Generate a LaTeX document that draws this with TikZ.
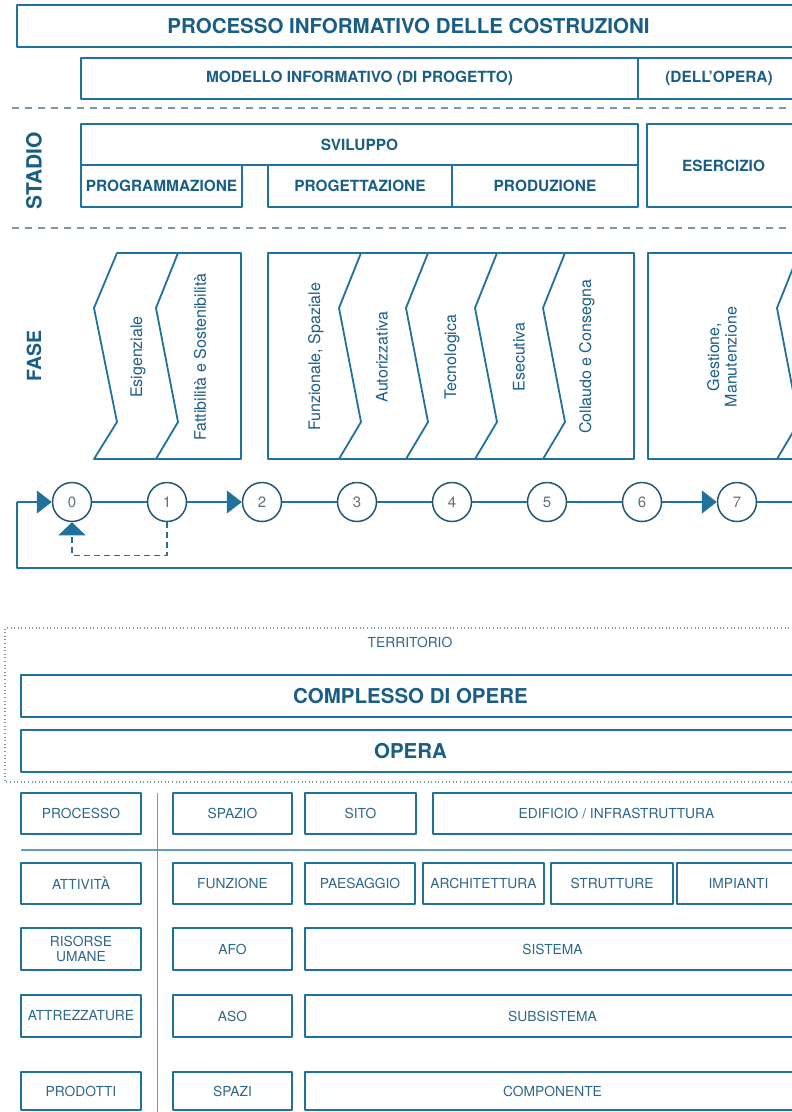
\documentclass[tikz,border=0pt]{standalone}
\usepackage{fontspec}
\setmainfont{TeX Gyre Heros}
\usepackage{tikz}
\usetikzlibrary{arrows.meta,fit}

\definecolor{bimblue}{RGB}{32,114,156}
\definecolor{bimtext}{RGB}{26,94,134}
\definecolor{bimcell}{RGB}{45,102,138}
\definecolor{bimgrey}{RGB}{125,150,168}
\definecolor{bimring}{RGB}{36,88,114}
\definecolor{bimnum}{RGB}{100,112,122}

\tikzset{
  outline/.style={draw=bimblue,line width=1.8pt},
  frame/.style={outline,inner sep=0pt},
  headtxt/.style={text=bimtext,inner sep=0pt,font=\bfseries\fontsize{15.4}{18}\selectfont},
  bigtxt/.style={text=bimtext,inner sep=0pt,font=\bfseries\fontsize{20.5}{24}\selectfont},
  celltxt/.style={text=bimcell,inner sep=0pt,align=center,font=\fontsize{13.8}{15}\selectfont},
  cellbox/.style={frame,line width=1.6pt},
  stage/.style={rotate=90,text=bimtext,font=\bfseries\fontsize{21}{24}\selectfont},
  phase/.style={rotate=90,text=bimtext,align=center,font=\fontsize{16}{17.5}\selectfont},
  tappa/.style={circle,draw=bimring,line width=1.5pt,minimum size=39pt,inner sep=0pt,fill=white,text=bimnum,font=\fontsize{15}{18}\selectfont},
  flow/.style={draw=bimblue,line width=1.4pt},
  tip/.style={-{Triangle[length=15pt,width=23pt]}},
  sepline/.style={draw=bimgrey,line width=1.3pt,dash pattern=on 7pt off 6pt},
}

\begin{document}
\begin{tikzpicture}[x=1pt,y=-1pt,line join=round]
\useasboundingbox (0,0) rectangle (792,1112);
\clip (0,0) rectangle (792,1112);
% processo e modello informativo
\node[frame,fit={(17,5) (800,47)},label={[bigtxt]center:PROCESSO INFORMATIVO DELLE COSTRUZIONI}] (processo) {};
\node[frame,fit={(81,58) (638,99)},label={[headtxt]center:MODELLO INFORMATIVO (DI PROGETTO)}] (progetto) {};
\node[frame,fit={(638,58) (800,99)},label={[headtxt]center:(DELL'OPERA)}] (dellopera) {};
\draw[sepline] (12,108) -- (800,108);
% stadi
\node[stage] (stadio) at (34,171) {STADIO};
\node[frame,fit={(81,124) (638,165)},label={[headtxt]center:SVILUPPO}] (sviluppo) {};
\node[frame,fit={(81,165) (242,207)},label={[headtxt]center:PROGRAMMAZIONE}] (programmazione) {};
\node[frame,fit={(268,165) (452,207)},label={[headtxt]center:PROGETTAZIONE}] (progettazione) {};
\node[frame,fit={(452,165) (638,207)},label={[headtxt]center:PRODUZIONE}] (produzione) {};
\node[frame,fit={(647,124) (800,207)},label={[headtxt]center:ESERCIZIO}] (esercizio) {};
\draw[sepline] (12,228) -- (800,228);
% fasi
\node[stage,font=\bfseries\fontsize{19.5}{24}\selectfont] (fase) at (34,356) {FASE};
\draw[outline] (117,253) -- (241,253) -- (241,459) -- (94,459) -- (117,422) -- (94,308) -- cycle;
\draw[outline] (268,253) rectangle (634,459);
\draw[outline] (800,253) -- (648,253) -- (648,459) -- (800,459);
\foreach \x in {178,361,428,497,565,799} {\draw[outline] (\x,253) -- ({\x-22},308) -- (\x,422) -- ({\x-22},459);}
\node[phase] (esigenziale) at (138,357) {Esigenziale};
\node[phase] (fattibilita) at (200,357) {Fattibilità e Sostenibilità};
\node[phase] (funzionale) at (316,357) {Funzionale, Spaziale};
\node[phase] (autorizzativa) at (382,357) {Autorizzativa};
\node[phase] (tecnologica) at (452,357) {Tecnologica};
\node[phase] (esecutiva) at (519,357) {Esecutiva};
\node[phase] (collaudo) at (587,357) {Collaudo e Consegna};
\node[phase] (gestione) at (722,357) {Gestione,\\Manutenzione};
% ciclo dei passi
\foreach \i in {0,...,7} {\node[tappa] (c\i) at ({72+95*\i},502) {\i};}
\coordinate (loopL) at (17,502);
\coordinate (loopB) at (17,568);
\coordinate (outR) at (800,502);
\coordinate (outB) at (800,568);
\draw[flow] (outB) -- (loopB) -- (loopL);
\draw[flow,tip] (loopL) -- (c0);
\draw[flow] (c0) -- (c1);
\draw[flow,tip] (c1) -- (c2);
\foreach \a/\b in {2/3,3/4,4/5,5/6} {\draw[flow] (c\a) -- (c\b);}
\draw[flow,tip] (c6) -- (c7);
\draw[flow] (c7) -- (outR);
\draw[flow,line width=1.3pt,dash pattern=on 6pt off 4pt,-{Triangle[length=13pt,width=27pt]}] (c1.south) -- ++(0,33) -| (c0.south);
% territorio
\draw[draw=bimgrey,line width=1.3pt,dash pattern=on 1pt off 2.6pt] (800,628) -- (5,628) -- (5,782) -- (800,782);
\node[celltxt,font=\fontsize{13.8}{16}\selectfont] (territorio) at (410,642) {TERRITORIO};
\node[frame,fit={(21,675) (800,717)},label={[bigtxt]center:COMPLESSO DI OPERE}] (complesso) {};
\node[frame,fit={(21,730) (800,772)},label={[bigtxt]center:OPERA}] (opera) {};
% griglia
\draw[draw=bimgrey,line width=1pt] (157,793) -- (157,1112);
\draw[outline,line width=1.5pt,draw=bimblue!70] (21,850) -- (800,850);
\node[cellbox,fit={(21,793) (141,834)},label={[celltxt]center:PROCESSO}] (processoL) {};
\node[cellbox,fit={(173,793) (292,834)},label={[celltxt]center:SPAZIO}] (spazio) {};
\node[cellbox,fit={(305,793) (416,834)},label={[celltxt]center:SITO}] (sito) {};
\node[cellbox,fit={(433,793) (800,834)},label={[celltxt]center:EDIFICIO / INFRASTRUTTURA}] (edificio) {};
\node[cellbox,fit={(21,863) (141,904)},label={[celltxt]center:ATTIVITÀ}] (attivita) {};
\node[cellbox,fit={(173,863) (292,904)},label={[celltxt]center:FUNZIONE}] (funzione) {};
\node[cellbox,fit={(305,863) (415,904)},label={[celltxt]center:PAESAGGIO}] (paesaggio) {};
\node[cellbox,fit={(423,863) (544,904)},label={[celltxt]center:ARCHITETTURA}] (architettura) {};
\node[cellbox,fit={(551,863) (673,904)},label={[celltxt]center:STRUTTURE}] (strutture) {};
\node[cellbox,fit={(677,863) (800,904)},label={[celltxt]center:IMPIANTI}] (impianti) {};
\node[cellbox,fit={(21,928) (141,970)},label={[celltxt]center:RISORSE\\UMANE}] (risorse) {};
\node[cellbox,fit={(173,928) (292,970)},label={[celltxt]center:AFO}] (afo) {};
\node[cellbox,fit={(305,928) (800,970)},label={[celltxt]center:SISTEMA}] (sistema) {};
\node[cellbox,fit={(21,995) (141,1037)},label={[celltxt]center:ATTREZZATURE}] (attrezzature) {};
\node[cellbox,fit={(173,995) (292,1037)},label={[celltxt]center:ASO}] (aso) {};
\node[cellbox,fit={(305,995) (800,1037)},label={[celltxt]center:SUBSISTEMA}] (subsistema) {};
\node[cellbox,fit={(21,1072) (141,1110)},label={[celltxt]center:PRODOTTI}] (prodotti) {};
\node[cellbox,fit={(173,1072) (292,1110)},label={[celltxt]center:SPAZI}] (spazi) {};
\node[cellbox,fit={(305,1072) (800,1110)},label={[celltxt]center:COMPONENTE}] (componente) {};
\end{tikzpicture}
\end{document}
